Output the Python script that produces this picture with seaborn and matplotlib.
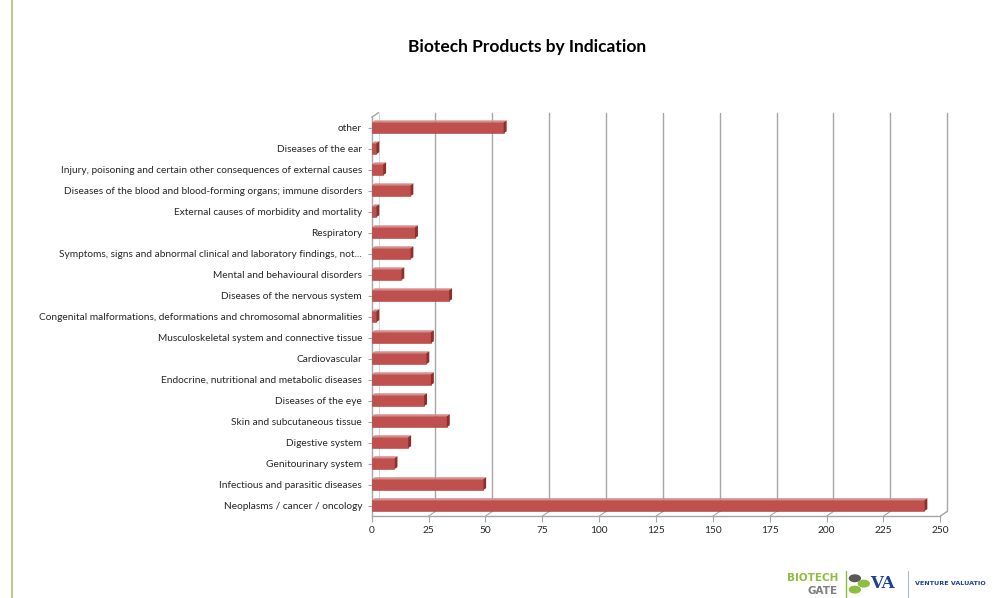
import matplotlib
matplotlib.use("Agg")
import matplotlib.pyplot as plt
import seaborn as sns
import pandas as pd
from matplotlib.patches import Circle, Polygon
from matplotlib.lines import Line2D

categories = [
    "other",
    "Diseases of the ear",
    "Injury, poisoning and certain other consequences of external causes",
    "Diseases of the blood and blood-forming organs; immune disorders",
    "External causes of morbidity and mortality",
    "Respiratory",
    "Symptoms, signs and abnormal clinical and laboratory findings, not...",
    "Mental and behavioural disorders",
    "Diseases of the nervous system",
    "Congenital malformations, deformations and chromosomal abnormalities",
    "Musculoskeletal system and connective tissue",
    "Cardiovascular",
    "Endocrine, nutritional and metabolic diseases",
    "Diseases of the eye",
    "Skin and subcutaneous tissue",
    "Digestive system",
    "Genitourinary system",
    "Infectious and parasitic diseases",
    "Neoplasms / cancer / oncology",
]
values = [58, 2, 5, 17, 2, 19, 17, 13, 34, 2, 26, 24, 26, 23, 33, 16, 10, 49, 243]
x_ticks = [0, 25, 50, 75, 100, 125, 150, 175, 200, 225, 250]

df = pd.DataFrame({"Indication": categories, "Products": values})

sns.set_theme(style="white")
plt.rcParams["font.family"] = ["Lato", "DejaVu Sans"]

fig = plt.figure(figsize=(9.94, 5.98), dpi=100)
ax = fig.add_axes([0.374, 0.137, 0.572, 0.667])

DX, DY = 3.0, 0.22  # depth offset for pseudo-3D

# back-wall gridlines
for t in x_ticks[1:]:
    ax.plot([t + DX, t + DX], [18.5 - DY, -0.72], color="#a6a6a6", lw=1.0, zorder=0, clip_on=False)
    ax.plot([t, t + DX], [18.5, 18.5 - DY], color="#a6a6a6", lw=0.8, clip_on=False, zorder=0)
# left wall top diagonal
ax.plot([0, DX], [-0.5, -0.72], color="#a6a6a6", lw=1.0, clip_on=False, zorder=1)
ax.plot([DX, DX], [-0.72, 18.5 - DY], color="#d0d0d0", lw=0.6, clip_on=False, zorder=0)
ax.plot([250, 250 + DX], [18.5, 18.5 - DY], color="#a6a6a6", lw=0.8, clip_on=False, zorder=0)

sns.barplot(data=df, y="Indication", x="Products", orient="h", color="#C0504D",
            width=0.52, ax=ax, zorder=3, saturation=1, edgecolor="#A94442", linewidth=0.4)

ddx, ddy = 1.3, 0.09
for p in list(ax.patches):
    x0, y0, w, h = p.get_x(), p.get_y(), p.get_width(), p.get_height()
    top = Polygon([[x0, y0], [x0 + ddx, y0 - ddy], [x0 + w + ddx, y0 - ddy], [x0 + w, y0]],
                  closed=True, facecolor="#D88C8A", edgecolor="none", zorder=3)
    side = Polygon([[x0 + w, y0], [x0 + w + ddx, y0 - ddy], [x0 + w + ddx, y0 + h - ddy], [x0 + w, y0 + h]],
                   closed=True, facecolor="#8E2F2C", edgecolor="none", zorder=3)
    ax.add_patch(top)
    ax.add_patch(side)

ax.set_xlim(0, 250)
ax.set_ylim(18.5, -0.5)
ax.set_xticks(x_ticks)
ax.set_xticklabels([str(t) for t in x_ticks], fontsize=7.3)
ax.tick_params(axis="y", labelsize=7.3, length=3, color="#a6a6a6", width=0.8, pad=4, left=True)
ax.tick_params(axis="x", length=4, color="#a6a6a6", width=0.8, bottom=True, pad=3)
ax.set_xlabel("")
ax.set_ylabel("")
for s in ["top", "right"]:
    ax.spines[s].set_visible(False)
for s in ["left", "bottom"]:
    ax.spines[s].set_color("#a6a6a6")
    ax.spines[s].set_linewidth(1.0)

fig.text(0.53, 0.921, "Biotech Products by Indication", ha="center", va="center",
         fontsize=12.5, fontweight="bold", color="#000000")

# left green border line
fig.add_artist(Line2D([0.012, 0.012], [0.0, 1.0], color="#A9C46C", lw=1.2))

# logo area
fig.text(0.792, 0.034, "BIOTECH", fontsize=7.5, fontweight="bold", color="#8DBE3F", ha="left", va="center",
         family=["DejaVu Sans"])
fig.text(0.812, 0.012, "GATE", fontsize=7.5, fontweight="bold", color="#7F7F7F", ha="left", va="center",
         family=["DejaVu Sans"])
fig.add_artist(Line2D([0.851, 0.851], [0.0, 0.045], color="#8DBE3F", lw=1))
for (cx, cy, c) in [(0.860, 0.033, "#595959"), (0.860, 0.014, "#8DBE3F"), (0.869, 0.024, "#8DBE3F")]:
    fig.add_artist(Circle((cx, cy), 0.0055, transform=fig.transFigure, color=c))
fig.text(0.875, 0.024, "VA", fontsize=12, fontweight="bold", color="#1F3F8F", ha="left", va="center",
         family=["DejaVu Serif"])
fig.add_artist(Line2D([0.913, 0.913], [0.0, 0.045], color="#b0b8c8", lw=0.8))
fig.text(0.921, 0.024, "VENTURE VALUATIO", fontsize=4.6, fontweight="bold", color="#1F3F8F",
         ha="left", va="center", family=["DejaVu Sans"])

fig.savefig("out.png", dpi=100)
